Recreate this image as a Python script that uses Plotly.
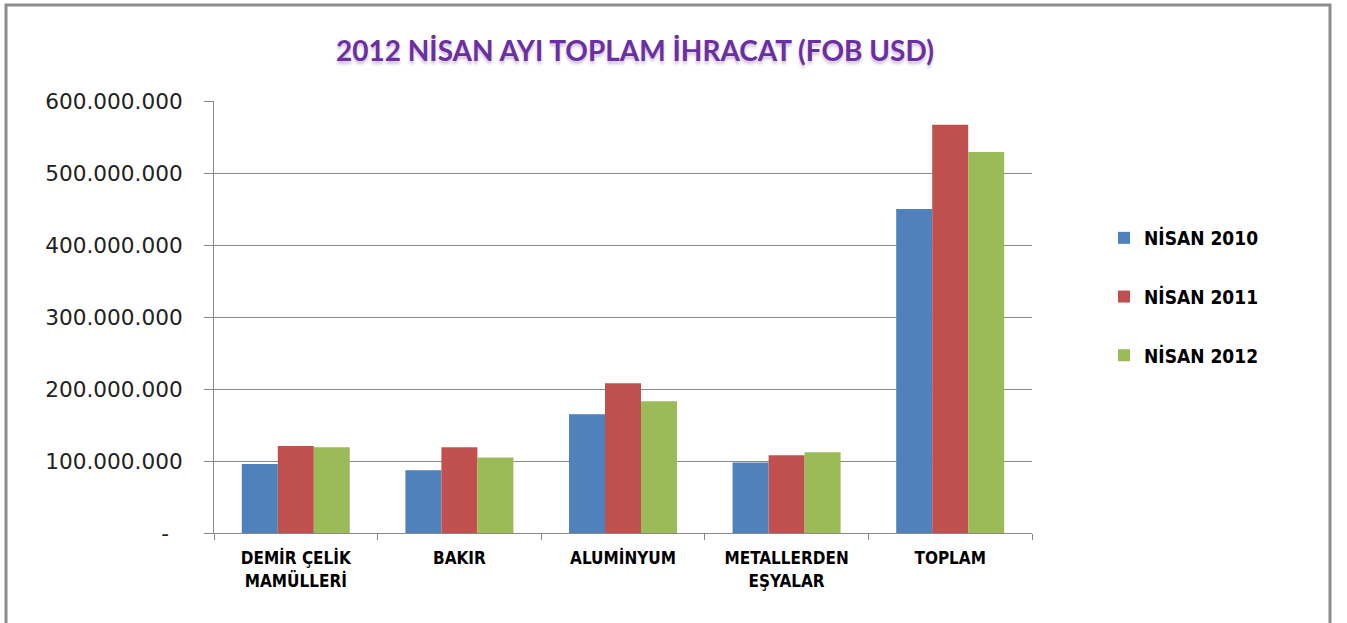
import plotly.graph_objects as go

categories = ["DEMİR ÇELİK<br>MAMÜLLERİ", "BAKIR", "ALUMİNYUM", "METALLERDEN<br>EŞYALAR", "TOPLAM"]
series_names = ["NİSAN 2010", "NİSAN 2011", "NİSAN 2012"]
nisan_2010 = [96_000_000, 87_000_000, 165_000_000, 98_000_000, 450_000_000]
nisan_2011 = [121_000_000, 119_000_000, 208_000_000, 108_000_000, 567_000_000]
nisan_2012 = [119_000_000, 105_000_000, 183_000_000, 112_000_000, 529_000_000]
colors = ["#4F81BD", "#C0504D", "#9BBB59"]
y_tickvals = [0, 100_000_000, 200_000_000, 300_000_000, 400_000_000, 500_000_000, 600_000_000]
y_ticktext = ["-\u00a0\u00a0", "100.000.000", "200.000.000", "300.000.000",
              "400.000.000", "500.000.000", "600.000.000"]
title_text = "2012 NİSAN AYI TOPLAM İHRACAT (FOB USD)"

narrow = "DejaVu Sans Condensed, Liberation Sans Narrow, Arial Narrow, sans-serif"

fig = go.Figure()
for name, vals, col in zip(series_names, [nisan_2010, nisan_2011, nisan_2012], colors):
    fig.add_trace(go.Bar(name=name, x=categories, y=vals, marker_color=col,
                         marker_line_width=0, legendgroup=name))

W, H = 1347, 623
L, R, T, B = 214, 1032, 101, 533
pw, ph = R - L, B - T

def px(x):
    return (x - L) / pw

def py(y):
    return (B - y) / ph

fig.update_layout(
    width=W, height=H,
    margin=dict(l=L, r=W - R, t=T, b=H - B, pad=0),
    paper_bgcolor="white", plot_bgcolor="white",
    barmode="group", bargap=0.34, bargroupgap=0,
    showlegend=True,
    legend=dict(x=px(1104), y=py(219), xanchor="left", yanchor="top",
                font=dict(family=narrow, size=19, color="#000000", weight="bold"),
                tracegroupgap=31, itemwidth=30, bgcolor="rgba(0,0,0,0)"),
    font=dict(family="DejaVu Sans, Verdana, sans-serif", color="#222222"),
    xaxis=dict(showline=True, linecolor="#888888", linewidth=1,
               ticks="outside", tickson="boundaries", ticklen=6, tickcolor="#888888",
               ticklabelstandoff=10,
               tickfont=dict(family=narrow, size=17, color="#000000", weight="bold"),
               showgrid=False),
    yaxis=dict(range=[0, 600_000_000], tickvals=y_tickvals, ticktext=y_ticktext,
               showline=True, linecolor="#888888", linewidth=1,
               ticks="outside", ticklen=9, tickcolor="#888888",
               ticklabelstandoff=17,
               tickfont=dict(family="DejaVu Sans, Verdana, sans-serif", size=21.6, color="#222222"),
               showgrid=True, gridcolor="#8a8a8a", gridwidth=1,
               zeroline=False),
)

fig.add_annotation(text=title_text, xref="paper", yref="paper",
                   x=px(635), y=py(50), xanchor="center", yanchor="middle",
                   showarrow=False,
                   font=dict(family="Lato, Open Sans, sans-serif", size=28,
                             color="#6a2fa0", weight="bold",
                             shadow="0px 3px 3px rgba(106,47,160,0.30)"))

fig.add_shape(type="rect", xref="paper", yref="paper",
              x0=px(6), x1=px(1330), y0=py(640), y1=py(5),
              line=dict(color="#8c8c8c", width=3), fillcolor="rgba(0,0,0,0)", layer="above")

fig.write_html("out.html", config={"displayModeBar": False},
               post_script="document.body.style.margin='0';")
